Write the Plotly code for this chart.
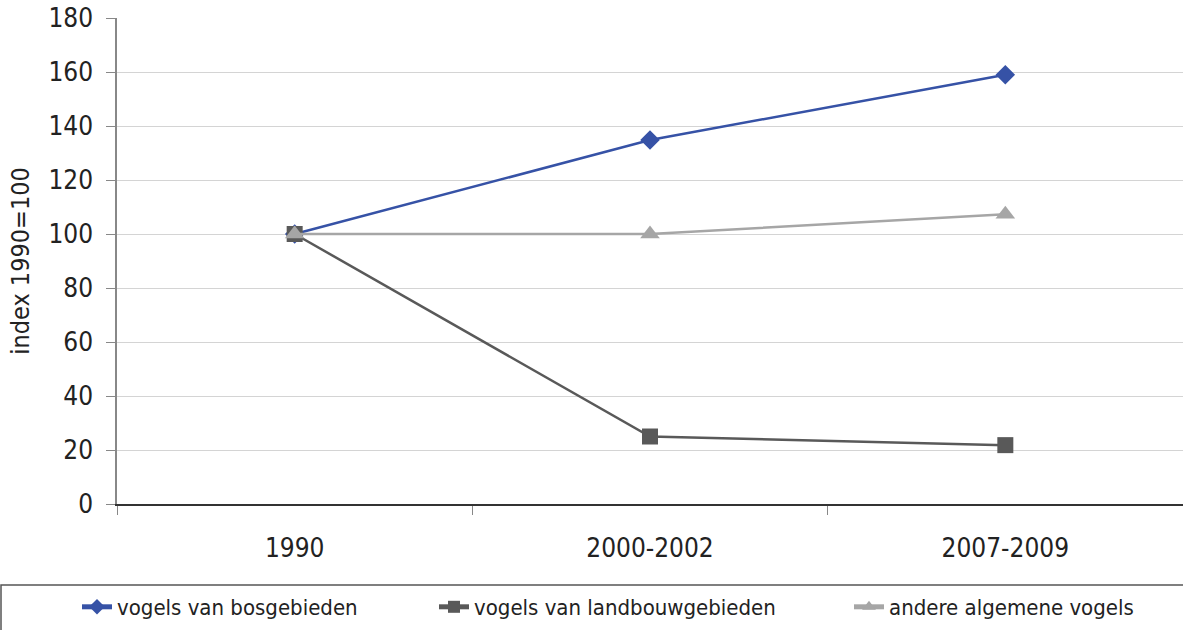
import plotly.graph_objects as go

categories = ["1990", "2000-2002", "2007-2009"]
bos = [100, 134.8, 159.0]
landbouw = [100, 25.0, 21.8]
andere = [100, 100, 107.3]
names = ["vogels van bosgebieden", "vogels van landbouwgebieden", "andere algemene vogels"]
y_ticks = [0, 20, 40, 60, 80, 100, 120, 140, 160, 180]

FONT = "DejaVu Sans Condensed, DejaVu Sans, sans-serif"
W, H = 1183, 630
L, R, T, B = 117, 0, 18, 126
pw, ph = W - L - R, H - T - B

def px_x(p):
    return (p - L) / pw

def px_y(p):
    return (H - B - p) / ph

fig = go.Figure()
fig.add_trace(go.Scatter(x=categories, y=bos, name=names[0], mode="lines+markers",
                         line=dict(color="#3652A6", width=2.5),
                         marker=dict(symbol="diamond", size=15, color="#3652A6"),
                         legend="legend"))
fig.add_trace(go.Scatter(x=categories, y=landbouw, name=names[1], mode="lines+markers",
                         line=dict(color="#595959", width=2.5),
                         marker=dict(symbol="square", size=16, color="#595959"),
                         legend="legend2"))
fig.add_trace(go.Scatter(x=categories, y=andere, name=names[2], mode="lines+markers",
                         line=dict(color="#A6A6A6", width=2.5),
                         marker=dict(symbol="triangle-up", size=17, color="#A6A6A6"),
                         legend="legend3"))

leg_common = dict(orientation="h", yanchor="middle", xanchor="left",
                  font=dict(family=FONT, size=22, color="#222222"),
                  bgcolor="rgba(0,0,0,0)", itemsizing="constant")
ly = px_y(607)
fig.update_layout(
    width=W, height=H,
    margin=dict(l=L, r=R, t=T, b=B, pad=0),
    paper_bgcolor="white", plot_bgcolor="white",
    font=dict(family=FONT, size=22, color="#222222"),
    showlegend=True,
    legend=dict(x=px_x(118 - 41), y=ly, **leg_common),
    legend2=dict(x=px_x(475 - 41), y=ly, **leg_common),
    legend3=dict(x=px_x(890 - 41), y=ly, **leg_common),
    xaxis=dict(type="category", range=[-0.5, 2.5], showgrid=False,
               showline=True, linecolor="#333333", linewidth=1.5,
               ticks="outside", tickson="boundaries", ticklen=9, tickcolor="#888888",
               tickfont=dict(family=FONT, size=26, color="#222222"),
               ticklabelstandoff=20, zeroline=False),
    yaxis=dict(range=[0, 180], tickvals=y_ticks, showgrid=True, gridcolor="#D4D4D4", gridwidth=1,
               showline=True, linecolor="#888888", linewidth=1.5,
               ticks="outside", ticklen=9, tickcolor="#888888",
               tickfont=dict(family=FONT, size=26, color="#222222"),
               ticklabelstandoff=8, zeroline=False,
               title=dict(text="index 1990=100", font=dict(family=FONT, size=25, color="#222222"),
                          standoff=12)),
    shapes=[dict(type="rect", xref="paper", yref="paper",
                 x0=px_x(1), x1=px_x(1190), y0=px_y(585), y1=px_y(645),
                 line=dict(color="#555555", width=1.5), fillcolor="rgba(0,0,0,0)")],
)

fig.write_html("out.html", config={"displayModeBar": False},
               post_script="document.body.style.margin='0';document.body.style.overflow='hidden';")
